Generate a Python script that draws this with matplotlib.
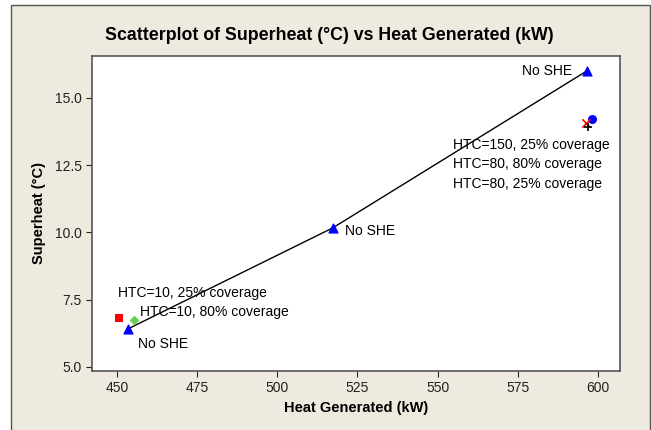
import matplotlib
matplotlib.use("Agg")
import matplotlib.pyplot as plt
from matplotlib.patches import Rectangle

# No SHE runs (joined by the line)
base_heat = [453.5, 517.3, 596.5]
base_sh = [6.42, 10.17, 16.0]

# SHE runs
she_labels = ["HTC=10, 25% coverage", "HTC=10, 80% coverage",
              "HTC=150, 25% coverage", "HTC=80, 80% coverage", "HTC=80, 25% coverage"]
she_heat = [450.6, 455.3, 598.3, 596.4, 596.8]
she_sh = [6.82, 6.75, 14.22, 14.08, 13.93]
she_marker = ["s", "D", "o", "x", "+"]
she_color = ["#ff0000", "#66cc55", "#0000ff", "#ff0000", "#000000"]
she_size = [28, 24, 42, 36, 40]

bg = "#eeeae0"
plt.rcParams["font.family"] = ["Liberation Sans", "DejaVu Sans"]

fig = plt.figure(figsize=(6.51, 4.30), dpi=100, facecolor="white")
fig.patches.append(Rectangle((11 / 651, -0.01), 639 / 651, 1 - 5 / 430 + 0.01,
                             transform=fig.transFigure, facecolor=bg,
                             edgecolor="#555555", linewidth=1.0, zorder=-1))
ax = fig.add_axes([92 / 651, 1 - 371 / 430, 528 / 651, 315 / 430])
ax.set_facecolor("white")

ax.plot(base_heat, base_sh, color="black", linewidth=1.0, zorder=2)
ax.scatter(base_heat, base_sh, marker="^", s=40, color="#0000ff", zorder=3)
for x, y, m, c, s in zip(she_heat, she_sh, she_marker, she_color, she_size):
    lw = 1.2 if m in ("x", "+") else 0
    ax.scatter([x], [y], marker=m, s=s, color=c, linewidths=lw, zorder=3)

fs = 10
ax.text(456.5, 5.85, "No SHE", fontsize=fs, va="center")
ax.text(521.1, 10.06, "No SHE", fontsize=fs, va="center")
ax.text(576.3, 16.0, "No SHE", fontsize=fs, va="center")
ax.text(450.3, 7.75, she_labels[0], fontsize=fs, va="center")
ax.text(457.2, 7.04, she_labels[1], fontsize=fs, va="center")
ax.text(554.8, 13.25, she_labels[2], fontsize=fs, va="center")
ax.text(554.8, 12.55, she_labels[3], fontsize=fs, va="center")
ax.text(554.8, 11.80, she_labels[4], fontsize=fs, va="center")

ax.set_xlim(442.2, 606.9)
ax.set_ylim(4.85, 16.56)
ax.set_xticks([450, 475, 500, 525, 550, 575, 600])
ax.set_yticks([5.0, 7.5, 10.0, 12.5, 15.0])
ax.set_yticklabels(["5.0", "7.5", "10.0", "12.5", "15.0"])
ax.tick_params(direction="out", length=4, labelsize=10, colors="#222222")
for sp in ax.spines.values():
    sp.set_color("#555555")
    sp.set_linewidth(1.2)

ax.set_xlabel("Heat Generated (kW)", fontsize=10.5, fontweight="bold", labelpad=4)
ax.set_ylabel("Superheat (°C)", fontsize=10.5, fontweight="bold", labelpad=6)
fig.text(329 / 651, 1 - 36 / 430, "Scatterplot of Superheat (°C) vs Heat Generated (kW)",
         ha="center", va="center", fontsize=12.8, fontweight="bold")

fig.savefig("out.png", dpi=100, facecolor="white")
